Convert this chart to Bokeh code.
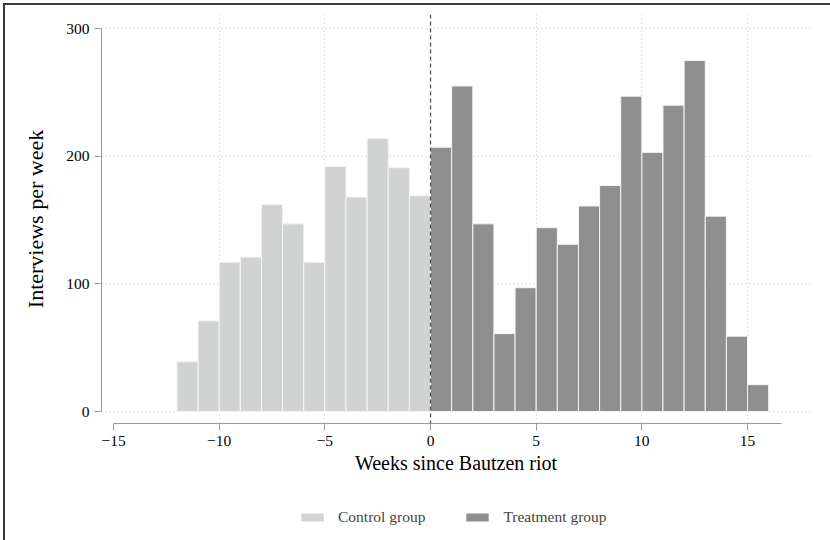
from bokeh.plotting import figure
from bokeh.layouts import column
from bokeh.models import Range1d, Span, Legend, LegendItem, FixedTicker
from bokeh.embed import file_html
from bokeh.resources import INLINE

# ---- data ----
control_weeks = list(range(-12, 0))
control_counts = [39, 71, 117, 121, 162, 147, 117, 192, 168, 214, 191, 169]
treatment_weeks = list(range(0, 16))
treatment_counts = [207, 255, 147, 61, 97, 144, 131, 161, 177, 247, 203, 240, 275, 153, 59, 21]
x_ticks = [-15, -10, -5, 0, 5, 10, 15]
x_grid = [-10, -5, 5, 10, 15]
y_ticks = [0, 100, 200, 300]
x_title = "Weeks since Bautzen riot"
y_title = "Interviews per week"
series_names = ["Control group", "Treatment group"]

FONT = "Liberation Serif"
CONTROL_COLOR = "#d1d3d3"
TREAT_COLOR = "#8f8f8f"

p = figure(width=825, height=495, output_backend="svg", toolbar_location=None,
           x_range=Range1d(-15.57, 17.98), y_range=Range1d(-9.4, 311.0),
           min_border_left=96, min_border_right=20, min_border_top=9,
           min_border_bottom=77)
p.outline_line_color = None
p.background_fill_color = "white"
p.border_fill_color = "white"

r1 = p.vbar(x=[w + 0.5 for w in control_weeks], top=control_counts, bottom=0, width=1,
            fill_color=CONTROL_COLOR, line_color="#f4f4f4", line_width=1)
r2 = p.vbar(x=[w + 0.5 for w in treatment_weeks], top=treatment_counts, bottom=0, width=1,
            fill_color=TREAT_COLOR, line_color="#f4f4f4", line_width=1)

p.add_layout(Span(location=0, dimension="height", line_color="#555555",
                  line_dash="4 3", line_width=1.3))

# grids
p.xgrid.ticker = FixedTicker(ticks=x_grid)
p.ygrid.ticker = FixedTicker(ticks=y_ticks)
for g in (p.xgrid, p.ygrid):
    g.grid_line_color = "#c4c4c4"
    g.grid_line_dash = "1 3"
    g.grid_line_width = 1

# axes
p.xaxis.ticker = FixedTicker(ticks=x_ticks)
p.yaxis.ticker = FixedTicker(ticks=y_ticks)
p.xaxis.bounds = (-15, 16.6)
p.yaxis.bounds = (0, 300)
p.xaxis.major_label_overrides = {t: (str(t).replace("-", "\u2212")) for t in x_ticks}
for ax in (p.xaxis[0], p.yaxis[0]):
    ax.axis_line_color = "#9a9a9a"
    ax.major_tick_line_color = "#9a9a9a"
    ax.major_tick_out = 7
    ax.major_tick_in = 0
    ax.minor_tick_line_color = None
    ax.major_label_text_font = FONT
    ax.major_label_text_font_size = "15.5px"
    ax.major_label_text_color = "black"
    ax.axis_label_text_font = FONT
    ax.axis_label_text_font_style = "normal"
    ax.axis_label_text_color = "black"
p.xaxis.axis_label_text_font_size = "20px"
p.yaxis.axis_label_text_font_size = "22px"
p.xaxis.axis_label = x_title
p.yaxis.axis_label = y_title
p.xaxis.major_label_standoff = 5
p.yaxis.major_label_standoff = 5
p.xaxis.axis_label_standoff = 3
p.yaxis.axis_label_standoff = 15
p.yaxis.major_label_orientation = "horizontal"

# ---- legend strip under the chart (its frame is aligned with the chart's) ----
pl = figure(width=825, height=40, output_backend="svg", toolbar_location=None,
            x_range=Range1d(0, 1), y_range=Range1d(0, 1), min_border=0)
pl.axis.visible = False
pl.grid.visible = False
pl.outline_line_color = None
# hidden copies of the two series: only their legend swatches are shown
l1 = pl.vbar(x=control_weeks, top=control_counts, width=1,
             fill_color=CONTROL_COLOR, line_color=None, visible=False)
l2 = pl.vbar(x=treatment_weeks, top=treatment_counts, width=1,
             fill_color=TREAT_COLOR, line_color=None, visible=False)
legend = Legend(items=[LegendItem(label=series_names[0], renderers=[l1]),
                       LegendItem(label=series_names[1], renderers=[l2])],
                orientation="horizontal", location=(197, 13),
                glyph_width=28, glyph_height=10, label_height=20,
                label_standoff=12, spacing=38,
                label_text_font=FONT, label_text_font_size="15.5px",
                border_line_color=None, background_fill_alpha=0,
                padding=0, margin=0)
pl.add_layout(legend)

layout = column(p, pl, spacing=0)
layout.styles = {"margin-left": "3px", "margin-top": "3px",
                 "border-left": "2px solid #3c3c3c", "border-top": "2px solid #3c3c3c"}
open("out.html", "w").write(file_html(layout, INLINE))
